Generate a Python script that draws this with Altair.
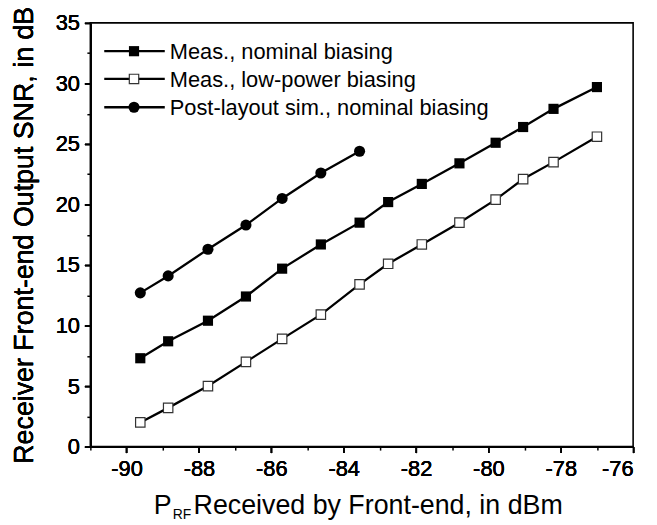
import altair as alt
import pandas as pd

# ---- data ----
x_meas = [-89.62, -88.85, -87.75, -86.7, -85.7, -84.63, -83.56, -82.77,
          -81.84, -80.8, -79.8, -79.04, -78.2, -77.0]
snr_nominal = [7.3, 8.7, 10.4, 12.4, 14.7, 16.7, 18.5, 20.2,
               21.7, 23.4, 25.1, 26.4, 27.9, 29.7]
snr_lowpower = [2.0, 3.2, 5.0, 7.0, 8.9, 10.9, 13.4, 15.1,
                16.7, 18.5, 20.4, 22.1, 23.5, 25.6]
x_sim = [-89.62, -88.85, -87.75, -86.7, -85.7, -84.63, -83.56]
snr_sim = [12.7, 14.1, 16.3, 18.3, 20.5, 22.6, 24.4]

series_names = ["Meas., nominal biasing",
                "Meas., low-power biasing",
                "Post-layout sim., nominal biasing"]

x_major = [-90, -88, -86, -84, -82, -80, -78, -76]
x_minor = [-91, -89, -87, -85, -83, -81, -79, -77]
y_major = [0, 5, 10, 15, 20, 25, 30, 35]
y_minor = [2.5, 7.5, 12.5, 17.5, 22.5, 27.5, 32.5]

y_title = "Receiver Front-end Output SNR, in dB"
x_title_main = "P"
x_title_sub = "RF"
x_title_rest = "Received by Front-end, in dBm"

FONT = "Liberation Sans"
W, H = 547, 427

frames = []
for name, xs, ys in [(series_names[0], x_meas, snr_nominal),
                     (series_names[1], x_meas, snr_lowpower),
                     (series_names[2], x_sim, snr_sim)]:
    frames.append(pd.DataFrame({"series": name, "x": xs, "snr": ys}))
df = pd.concat(frames, ignore_index=True)

xscale = alt.Scale(domain=[-91, -76], nice=False, zero=False)
yscale = alt.Scale(domain=[0, 35], nice=False, zero=False)

x_axis = alt.Axis(orient="bottom", values=x_major, title=None, tickSize=6, tickWidth=1.5,
                  tickColor="black", domainColor="black", domainWidth=1.6,
                  labelFontSize=22, labelFont=FONT, labelColor="black",
                  labelPadding=6, grid=False,
                  labelExpr="replace(datum.label, '\u2212', '-')")
y_axis = alt.Axis(orient="left", values=y_major, title=y_title, tickSize=6, tickWidth=1.5,
                  tickColor="black", domainColor="black", domainWidth=1.6,
                  labelFontSize=22, labelFont=FONT, labelColor="black",
                  labelPadding=5, grid=False,
                  titleFont=FONT, titleFontSize=27, titleFontWeight="normal",
                  titleColor="black", titleX=-58, titleY=H / 2,
                  titleAngle=-90, titleAlign="center",
                  titleBaseline="alphabetic")

base = alt.Chart(df).encode(
    x=alt.X("x:Q", scale=xscale, axis=x_axis),
    y=alt.Y("snr:Q", scale=yscale, axis=y_axis),
)

lines = base.mark_line(color="black", strokeWidth=2.3).encode(detail="series:N")

pts_nom = base.transform_filter(alt.datum.series == series_names[0]).mark_point(
    shape="square", filled=True, color="black", size=105, opacity=1)
pts_low = base.transform_filter(alt.datum.series == series_names[1]).mark_point(
    shape="square", filled=True, fill="white", stroke="#333", strokeWidth=1.2,
    size=90, opacity=1)
pts_sim = base.transform_filter(alt.datum.series == series_names[2]).mark_point(
    shape="circle", filled=True, color="black", size=125, opacity=1)

# minor ticks as a second, label-less axis on the same scales
minor = alt.Chart(df).mark_point(opacity=0).encode(
    x=alt.X("x:Q", scale=xscale,
            axis=alt.Axis(orient="bottom", values=x_minor, labels=False, title=None,
                          tickSize=3.5, tickWidth=1.5, tickColor="black",
                          domain=False, grid=False)),
    y=alt.Y("snr:Q", scale=yscale,
            axis=alt.Axis(orient="left", values=y_minor, labels=False, title=None,
                          tickSize=3.5, tickWidth=1.5, tickColor="black",
                          domain=False, grid=False)),
)

# legend (upper left, inside the frame)
legend_layers = []
row_y = [28.5, 56.5, 85]
sym = [dict(shape="square", filled=True, color="black", size=105),
       dict(shape="square", filled=True, fill="white", stroke="#333", strokeWidth=1.2, size=90),
       dict(shape="circle", filled=True, color="black", size=125)]
for i, name in enumerate(series_names):
    ld = pd.DataFrame({"label": [name]})
    legend_layers.append(alt.Chart(ld).mark_rule(color="black", strokeWidth=2.3).encode(
        x=alt.value(14), x2=alt.value(75), y=alt.value(row_y[i])))
    legend_layers.append(alt.Chart(ld).mark_point(opacity=1, **sym[i]).encode(
        x=alt.value(44), y=alt.value(row_y[i])))
    legend_layers.append(alt.Chart(ld).mark_text(
        align="left", baseline="middle", font=FONT, fontSize=22, color="black").encode(
        x=alt.value(80), y=alt.value(row_y[i] + 1), text="label:N"))

# x-axis title with subscript
tdf = pd.DataFrame({"t": [x_title_main, x_title_sub, x_title_rest]})
title_p = alt.Chart(tdf.iloc[[0]]).mark_text(
    align="left", baseline="alphabetic", font=FONT, fontSize=27, color="black").encode(
    x=alt.value(64), y=alt.value(495), text="t:N")
title_sub = alt.Chart(tdf.iloc[[1]]).mark_text(
    align="left", baseline="alphabetic", font=FONT, fontSize=14, color="black").encode(
    x=alt.value(83), y=alt.value(500), text="t:N")
title_rest = alt.Chart(tdf.iloc[[2]]).mark_text(
    align="left", baseline="alphabetic", font=FONT, fontSize=27, color="black").encode(
    x=alt.value(104), y=alt.value(495), text="t:N")

chart = alt.layer(
    minor, lines, pts_nom, pts_low, pts_sim,
    *legend_layers, title_p, title_sub, title_rest
).resolve_axis(x="independent", y="independent").properties(
    width=W, height=H,
    autosize=alt.AutoSizeParams(type="none"),
    padding={"left": 83, "top": 13, "right": 16, "bottom": 80},
    background="white",
).configure_view(stroke="black", strokeWidth=1.6)

chart.save("out.html", embed_options={"renderer": "svg", "actions": False})
